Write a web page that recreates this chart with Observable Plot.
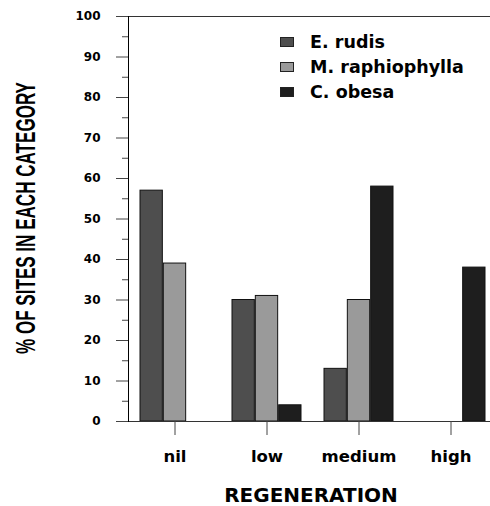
<!DOCTYPE html>
<html>
<head>
<meta charset="utf-8">
<script src="https://cdn.jsdelivr.net/npm/d3@7"></script>
<script src="https://cdn.jsdelivr.net/npm/@observablehq/plot@0.6"></script>
<style>
  html, body { margin: 0; padding: 0; background: white; }
  #wrap { position: relative; width: 490px; height: 506px; }
  #legend { position: absolute; left: 280px; top: 29px; font-family: "DejaVu Sans", sans-serif; font-weight: bold; font-size: 17.5px; color: #000; }
  .row { display: flex; align-items: center; height: 25px; white-space: pre; }
  .sw { width: 12px; height: 8px; border: 1px solid #222; margin-right: 16px; }
</style>
</head>
<body>
<div id="wrap"></div>
<script>
const categories = ["nil", "low", "medium", "high"];
const species = ["E. rudis", "M. raphiophylla", "C. obesa"];
const eRudis = [57, 30, 13, 0];
const mRaphiophylla = [39, 31, 30, 0];
const cObesa = [0, 4, 58, 38];
const seriesValues = [eRudis, mRaphiophylla, cObesa];
const colors = ["#4e4e4e", "#9a9a9a", "#1e1e1e"];
const yMajorTicks = [0, 10, 20, 30, 40, 50, 60, 70, 80, 90, 100];
const yMinorTicks = [5, 15, 25, 35, 45, 55, 65, 75, 85, 95];
const xLabel = "REGENERATION";
const yLabel = "% OF SITES IN EACH CATEGORY";

const rows = [];
species.forEach((s, j) => categories.forEach((c, i) => rows.push({category: c, species: s, value: seriesValues[j][i]})));

const bandW = 70;
const barW = bandW / 3;
const barMarks = species.map((s, j) => Plot.barY(rows.filter(d => d.species === s && d.value > 0), {
  x: "category", y: "value", fill: colors[j], stroke: "#111", strokeWidth: 1,
  insetLeft: j * barW, insetRight: (2 - j) * barW
}));

const chart = Plot.plot({
  width: 490, height: 506,
  marginTop: 16, marginBottom: 85, marginLeft: 128, marginRight: 0,
  style: {fontFamily: "DejaVu Sans", fontWeight: "bold", background: "white", color: "black"},
  x: {domain: categories, range: [139, 487], paddingInner: 0.2446, paddingOuter: 0},
  y: {domain: [0, 100]},
  marks: [
    ...barMarks,
    Plot.ruleY([0, 100], {stroke: "#333"}),
    Plot.frame({anchor: "left", stroke: "#000"}),
    Plot.axisY({ticks: yMajorTicks, tickSize: 12, tickPadding: 16, fontSize: 12, stroke: "#444", fill: "black", label: yLabel, labelAnchor: "center"}),
    Plot.axisY({ticks: yMinorTicks, tickSize: 6, tickFormat: () => "", stroke: "#444", label: null}),
    Plot.axisX({tickSize: 14, tickPadding: 15, fontSize: 16.5, stroke: "#444", fill: "black", label: xLabel, labelAnchor: "center"})
  ]
});

document.getElementById("wrap").appendChild(chart);

// style the axis labels
const yl = chart.querySelector('g[aria-label="y-axis label"]');
if (yl) {
  yl.removeAttribute("transform");
  const t = yl.querySelector("text");
  ["x", "y", "dy", "dx"].forEach(a => t.removeAttribute(a));
  t.textContent = yLabel;
  t.setAttribute("text-anchor", "middle");
  t.setAttribute("font-family", "Liberation Sans");
  t.setAttribute("font-size", "27");
  t.setAttribute("font-weight", "bold");
  const natural = t.getComputedTextLength() || 434;
  const sx = 272 / natural;
  t.setAttribute("transform", `translate(35,218) rotate(-90) scale(${sx},1)`);
}
const xl = chart.querySelector('g[aria-label="x-axis label"]');
if (xl) {
  xl.removeAttribute("transform");
  const t = xl.querySelector("text");
  ["x", "y", "dy", "dx"].forEach(a => t.removeAttribute(a));
  t.textContent = xLabel;
  t.setAttribute("transform", "translate(311,502)");
  t.setAttribute("text-anchor", "middle");
  t.setAttribute("font-size", "20");
  t.setAttribute("font-weight", "bold");
}

// legend
const legend = document.createElement("div");
legend.id = "legend";
species.forEach((s, j) => {
  const r = document.createElement("div");
  r.className = "row";
  const sw = document.createElement("div");
  sw.className = "sw";
  sw.style.background = colors[j];
  const tx = document.createElement("span");
  tx.textContent = s.replace(". ", ".  ");
  tx.style.wordSpacing = "-3px";
  r.appendChild(sw); r.appendChild(tx);
  legend.appendChild(r);
});
document.getElementById("wrap").appendChild(legend);
</script>
</body>
</html>
